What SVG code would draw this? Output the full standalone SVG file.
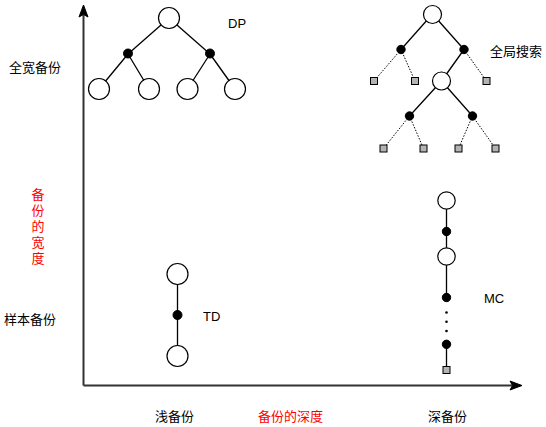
<svg xmlns="http://www.w3.org/2000/svg" width="546" height="427" viewBox="0 0 546 427">
<defs>
<style>
.ax{stroke:#333;stroke-width:2;fill:none}
.ln{stroke:#000;stroke-width:1.3;fill:none}
.dt{stroke:#000;stroke-width:1;stroke-dasharray:1.5 1.5;fill:none}
.oc{fill:#fff;stroke:#000;stroke-width:1.2}
.bd{fill:#000;stroke:#000;stroke-width:1}
.sq{fill:#b3b3b3;stroke:#000;stroke-width:1}
text{font-family:"Noto Sans CJK SC","Liberation Sans",sans-serif;font-size:13px;fill:#000}
.lbl{font-family:"Liberation Sans",Arial,sans-serif;font-size:13px}
.red{fill:#ff0000}
.vert{writing-mode:tb;letter-spacing:3px}
</style>
</defs>
<rect width="546" height="427" fill="#fff"/>
<g id="connectors">
<path class="ax" d="M83.5 385.5 V15"/>
<path d="M83.5 5 L88 17 L83.5 14.5 L79 17 Z" fill="#000" stroke="#000" stroke-width="1"/>
<path class="ax" d="M83.5 385.5 H512"/>
<path d="M522 385.5 L510 381 L512.5 385.5 L510 390 Z" fill="#000" stroke="#000" stroke-width="1"/>
<path class="ln" d="M169 18 L128 54 M169 18 L210 54 M128 54 L99 89 M128 54 L149 89 M210 54 L187.5 89 M210 54 L235 89"/>
<path class="ln" d="M432.5 14 L401 49.5 M432.5 14 L464 49.5 M464 49.5 L441.5 81 M441.5 81 L409.5 116 M441.5 81 L472.5 116"/>
<path class="dt" d="M401 49.5 L374 81 M401 49.5 L415 81 M464 49.5 L486.5 81 M409.5 116 L383.5 148.5 M409.5 116 L423.5 148.5 M472.5 116 L458.5 148.5 M472.5 116 L495.5 148.5"/>
<path class="ln" d="M446.5 200 V297.5 M446.5 344 V370"/>
<path class="ln" d="M177.5 274 V356"/>
</g>
<g id="dp-tree">
<circle class="oc" cx="169" cy="18" r="10.5"/>
<circle class="bd" cx="128" cy="53.5" r="4.5"/>
<circle class="bd" cx="210" cy="53.5" r="4.5"/>
<circle class="oc" cx="99" cy="89" r="10.5"/>
<circle class="oc" cx="149" cy="89" r="10.5"/>
<circle class="oc" cx="187.5" cy="89" r="10.5"/>
<circle class="oc" cx="235" cy="89" r="10.5"/>
<text class="lbl" x="228" y="28">DP</text>
</g>
<g id="global-search-tree">
<circle class="oc" cx="432.5" cy="14.5" r="9"/>
<circle class="bd" cx="401" cy="49.5" r="4.2"/>
<circle class="bd" cx="464" cy="49.5" r="4.2"/>
<rect class="sq" x="370.5" y="77.5" width="7" height="7"/>
<rect class="sq" x="411.5" y="77.5" width="7" height="7"/>
<rect class="sq" x="483" y="77.5" width="7" height="7"/>
<circle class="oc" cx="441.5" cy="81" r="9"/>
<circle class="bd" cx="409.5" cy="116" r="4.2"/>
<circle class="bd" cx="472.5" cy="116" r="4.2"/>
<rect class="sq" x="380" y="145" width="7" height="7"/>
<rect class="sq" x="420" y="145" width="7" height="7"/>
<rect class="sq" x="455" y="145" width="7" height="7"/>
<rect class="sq" x="492" y="145" width="7" height="7"/>
<text x="490" y="56">全局搜索</text>
</g>
<g id="mc-chain">
<circle class="oc" cx="446.5" cy="200.5" r="8.7"/>
<circle class="bd" cx="446.5" cy="231.5" r="4.2"/>
<circle class="oc" cx="446.5" cy="256.5" r="8.7"/>
<circle class="bd" cx="446.5" cy="297.5" r="4.2"/>
<circle cx="446.5" cy="312.5" r="1.3" fill="#000"/>
<circle cx="446.5" cy="321.7" r="1.3" fill="#000"/>
<circle cx="446.5" cy="331" r="1.3" fill="#000"/>
<circle class="bd" cx="446.5" cy="344.3" r="4.2"/>
<rect class="sq" x="443" y="366.5" width="7" height="7"/>
<text class="lbl" x="484" y="303">MC</text>
</g>
<g id="td-chain">
<circle class="oc" cx="177.5" cy="274" r="10.5"/>
<circle class="bd" cx="177.5" cy="315" r="4.5"/>
<circle class="oc" cx="177.5" cy="356" r="10.5"/>
<text class="lbl" x="203" y="321">TD</text>
</g>
<g id="labels">
<text x="9" y="72">全宽备份</text>
<text x="4" y="324">样本备份</text>
<text class="red vert" x="38" y="188">备份的宽度</text>
<text x="155" y="421">浅备份</text>
<text class="red" x="258" y="421">备份的深度</text>
<text x="428" y="421">深备份</text>
</g>
</svg>
